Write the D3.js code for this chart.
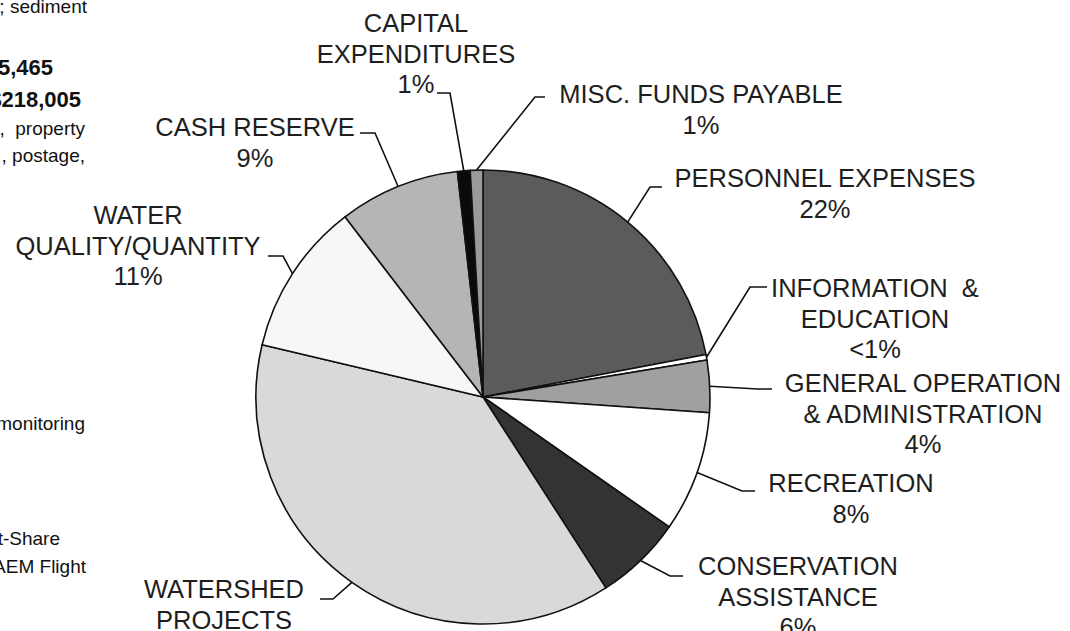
<!DOCTYPE html>
<html>
<head>
<meta charset="utf-8">
<script src="https://cdn.jsdelivr.net/npm/d3@7"></script>
<style>
  html, body { margin: 0; padding: 0; background: #fff; }
  svg { display: block; font-family: "Liberation Sans", Arial, sans-serif; }
  text { white-space: pre; }
</style>
</head>
<body>
<svg id="chart" width="1070" height="631"></svg>
<script>
// budget slices, clockwise from 12 o'clock
const categories = [
  ['PERSONNEL EXPENSES'],
  ['INFORMATION  &', 'EDUCATION'],
  ['GENERAL OPERATION', '& ADMINISTRATION'],
  ['RECREATION'],
  ['CONSERVATION', 'ASSISTANCE'],
  ['WATERSHED', 'PROJECTS'],
  ['WATER', 'QUALITY/QUANTITY'],
  ['CASH RESERVE'],
  ['CAPITAL', 'EXPENDITURES'],
  ['MISC. FUNDS PAYABLE']
];
const values = [22.0, 0.4, 3.7, 8.6, 6.2, 37.8, 10.9, 8.6, 0.9, 0.9];
const pctLabels = ['22%', '<1%', '4%', '8%', '6%', '38%', '11%', '9%', '1%', '1%'];
const fills = ['#5b5b5b', '#ffffff', '#a0a0a0', '#ffffff', '#333333',
               '#d9d9d9', '#f7f7f7', '#b5b5b5', '#0a0a0a', '#9a9a9a'];

// cropped body text of the page the chart sits in
const sideText = [
  { t: '; sediment', y: 13, x: 87, bold: false },
  { t: '5,465', y: 75, x: 53, bold: true },
  { t: '$218,005', y: 107, x: 81, bold: true },
  { t: ',  property', y: 135, x: 85, bold: false },
  { t: ', postage,', y: 162, x: 85, bold: false },
  { t: 'monitoring', y: 430, x: 85, bold: false },
  { t: 't-Share', y: 545, x: 60, bold: false },
  { t: 'AEM Flight', y: 573, x: 86, bold: false }
];

// label placement: text centre x, first baseline y, leader elbow and end
const labelLayout = [
  { cx: 825, y: 187, elbow: [650, 187], end: [662, 187] },
  { cx: 875, y: 297, elbow: [750, 287], end: [767, 287] },
  { cx: 923, y: 392, elbow: [758, 389], end: [772, 389] },
  { cx: 851, y: 492, elbow: [742, 491], end: [755, 491] },
  { cx: 798, y: 575, elbow: [670, 576], end: [683, 576] },
  { cx: 224, y: 598, elbow: [333, 599], end: [320, 599] },
  { cx: 138, y: 224, elbow: [283, 256], end: [268, 256] },
  { cx: 255, y: 136, elbow: [375, 133], end: [360, 133] },
  { cx: 416, y: 32, elbow: [450, 93], end: [437, 93] },
  { cx: 701, y: 103, elbow: [535, 97], end: [545, 97] }
];

const W = 1070, H = 631;
const cx = 483, cy = 397, radius = 227, lineH = 30.5;

const svg = d3.select('#chart');

const pie = d3.pie().sort(null).value(d => d)
  .startAngle(0).endAngle(2 * Math.PI);
const arcs = pie(values);
const arc = d3.arc().innerRadius(0).outerRadius(radius);

const g = svg.append('g').attr('transform', `translate(${cx},${cy})`);

g.selectAll('path.slice')
  .data(arcs)
  .enter().append('path')
  .attr('class', 'slice')
  .attr('d', arc)
  .attr('fill', (d, i) => fills[i])
  .attr('stroke', '#111')
  .attr('stroke-width', 1.6)
  .attr('stroke-linejoin', 'round');

// leader lines from the mid angle of each slice
arcs.forEach((a, i) => {
  const mid = (a.startAngle + a.endAngle) / 2;
  const px = cx + radius * Math.sin(mid);
  const py = cy - radius * Math.cos(mid);
  const L = labelLayout[i];
  svg.append('polyline')
    .attr('points', [[px, py], L.elbow, L.end].map(p => p.join(',')).join(' '))
    .attr('fill', 'none')
    .attr('stroke', '#111')
    .attr('stroke-width', 1.6);
});

// category labels (lines falling wholly below the page are skipped, as in the scan)
categories.forEach((lines, i) => {
  const L = labelLayout[i];
  const text = svg.append('text')
    .attr('text-anchor', 'middle')
    .attr('font-size', 25.5)
    .attr('fill', '#1e1e1e');
  lines.concat([pctLabels[i]]).forEach((s, k) => {
    const y = L.y + k * lineH;
    if (y - 18 > H) return;
    text.append('tspan')
      .attr('x', L.cx)
      .attr('y', y)
      .text(s);
  });
});

// side text fragments
svg.selectAll('text.side')
  .data(sideText)
  .enter().append('text')
  .attr('class', 'side')
  .attr('x', d => d.x)
  .attr('y', d => d.y)
  .attr('text-anchor', 'end')
  .attr('font-size', d => d.bold ? 22 : 19)
  .attr('font-weight', d => d.bold ? 'bold' : 'normal')
  .attr('fill', '#111')
  .text(d => d.t);
</script>
</body>
</html>
